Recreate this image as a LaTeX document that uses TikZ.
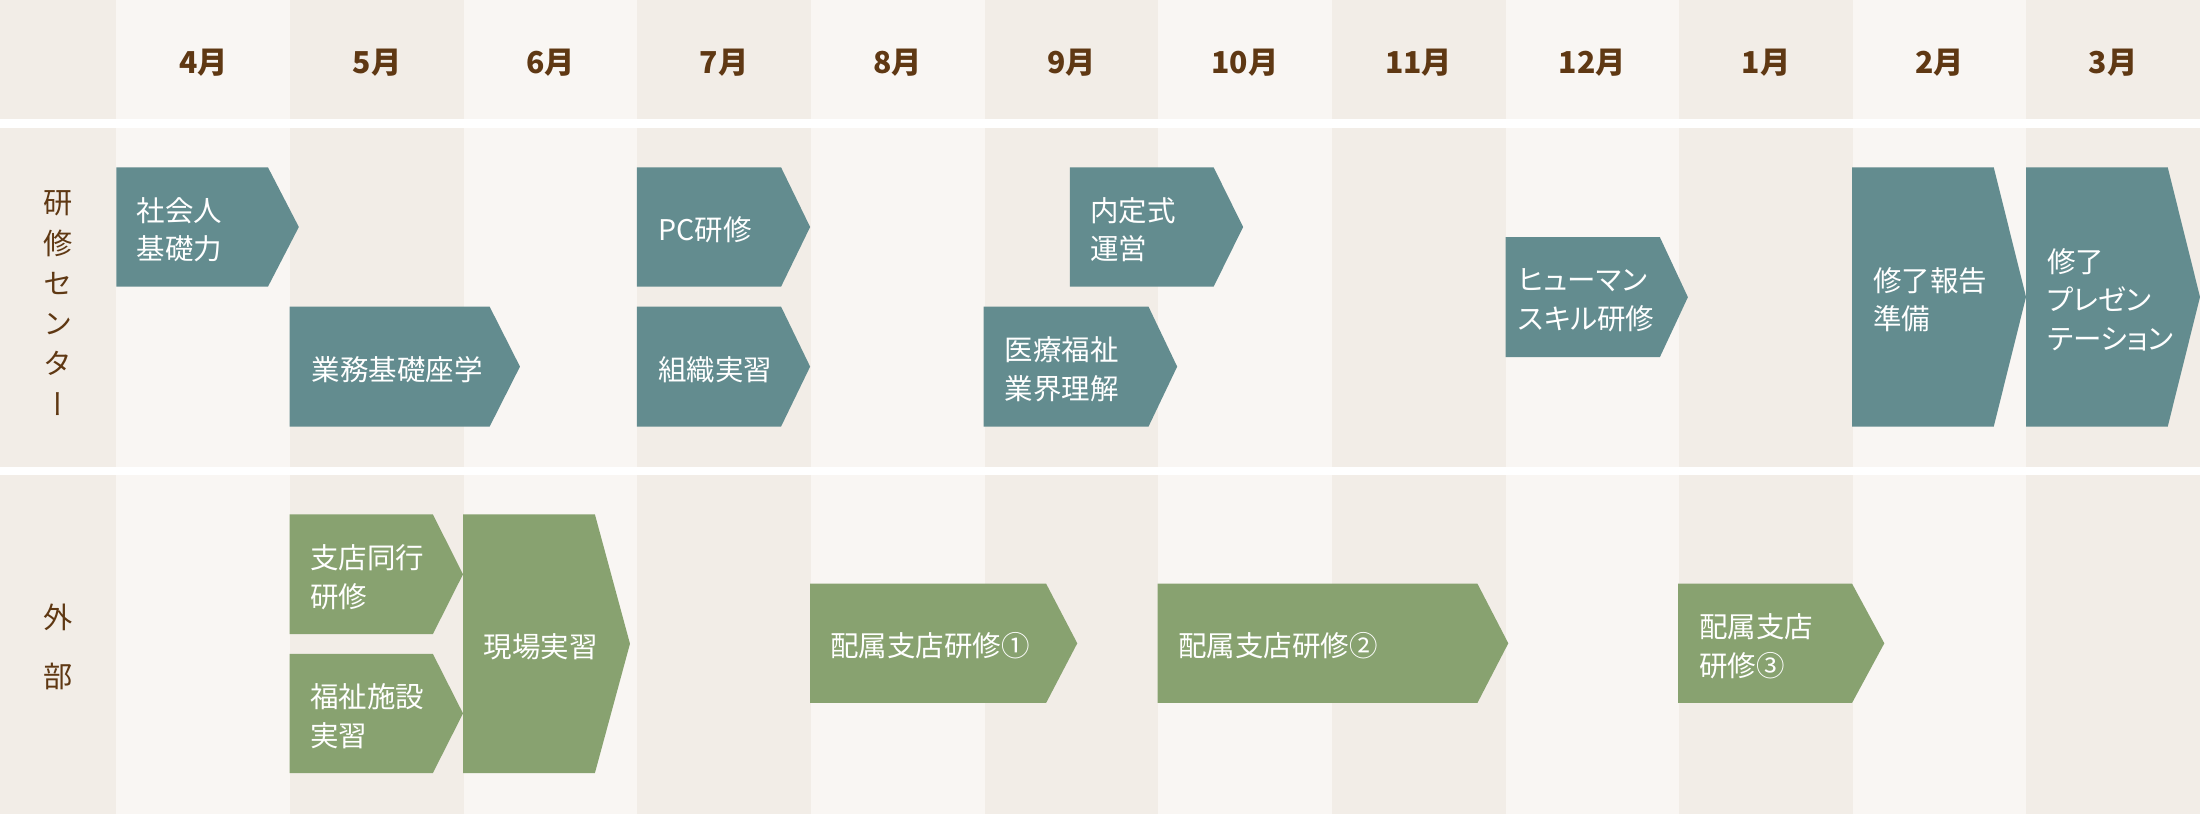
\documentclass[tikz,border=0pt]{standalone}
\usepackage{fontspec}
\setmainfont{Noto Sans CJK JP}
\newfontfamily\cjkv[RawFeature=+vert]{Noto Sans CJK JP}
\newfontfamily\cjkp[RawFeature=+palt]{Noto Sans CJK JP}
\definecolor{bglight}{HTML}{F9F6F3}
\definecolor{bgdark}{HTML}{F2EDE7}
\definecolor{tealbox}{HTML}{638C8F}
\definecolor{greenbox}{HTML}{88A270}
\definecolor{brownt}{HTML}{5F3813}
\newcommand\chev[6]{\fill[#6] (#1,#4) -- (#2,#4) -- (#3,{(#4+#5)/2}) -- (#2,#5) -- (#1,#5) -- cycle;}
\tikzset{
  month/.style={text=brownt, font=\bfseries\fontsize{21.5}{24}\selectfont, inner sep=0pt},
  rowlabel/.style={text=brownt, align=center, inner sep=0pt},
  boxtxt/.style={text=white, font=\cjkp\fontsize{20.3}{27.5}\selectfont, align=left, anchor=west, inner sep=0pt}
}
\begin{document}
\begin{tikzpicture}[x=1pt,y=-1pt]
\useasboundingbox (0,0) rectangle (1568,580);
% background columns
\fill[bgdark] (0,0) rectangle (83,580);
\foreach \i in {0,2,...,10} \fill[bglight] ({83+123.75*\i},0) rectangle ++(123.75,580);
\foreach \i in {1,3,...,11} \fill[bgdark] ({83+123.75*\i},0) rectangle ++(123.75,580);
% white separators
\fill[white] (0,85) rectangle (1568,91);
\fill[white] (0,332.6) rectangle (1568,338.6);
% month labels
\foreach \m [count=\i from 0] in {4,5,6,7,8,9,10,11,12,1,2,3}
  \node[month] (m\i) at ({83+123.75*(\i+0.5)},45) {\m 月};
% row labels
\node[rowlabel, font=\cjkv\fontsize{20.8}{28.7}\selectfont] (lab1) at (41.5,216) {研\\修\\セ\\ン\\タ\\ー};
\node[rowlabel, font=\fontsize{20.8}{42}\selectfont] (lab2) at (41.5,461) {外\\部};
% row 1 boxes (teal)
\chev{83}{191}{213}{119.3}{204.3}{tealbox}
\node[boxtxt] (b1) at (97.4,163.8) {社会人\\基礎力};
\chev{206.5}{349}{370.6}{218.6}{304}{tealbox}
\node[boxtxt] (b2) at (222,263.3) {業務基礎座学};
\chev{454}{556.7}{577.4}{119.3}{204.3}{tealbox}
\node[boxtxt] (b3) at (469,163.8) {PC研修};
\chev{454}{556.7}{577.4}{218.6}{304}{tealbox}
\node[boxtxt] (b4) at (469,263.3) {組織実習};
\chev{762.5}{865}{886}{119.3}{204.3}{tealbox}
\node[boxtxt] (b5) at (777,163.8) {内定式\\運営};
\chev{701}{818.6}{839}{218.6}{304}{tealbox}
\node[boxtxt] (b6) at (716,263.3) {医療福祉\\業界理解};
\chev{1073}{1183}{1203}{169}{254.6}{tealbox}
\node[boxtxt] (b7) at (1082,213.8) {ヒューマン\\スキル研修};
\chev{1320}{1421}{1444}{119.3}{304}{tealbox}
\node[boxtxt] (b8) at (1335,213.6) {修了報告\\準備};
\chev{1444}{1545}{1568}{119.3}{304}{tealbox}
\node[boxtxt] (b9) at (1459,213.6) {修了\\プレゼン\\テーション};
% row 2 boxes (green)
\chev{206.5}{308.5}{330}{366.6}{452}{greenbox}
\node[boxtxt] (c1) at (221,411.3) {支店同行\\研修};
\chev{206.5}{308.5}{330}{466}{551}{greenbox}
\node[boxtxt] (c2) at (221,510.5) {福祉施設\\実習};
\chev{330}{424}{449}{366.6}{551}{greenbox}
\node[boxtxt] (c3) at (344.5,460.8) {現場実習};
\chev{577.4}{745.6}{767.8}{416}{501}{greenbox}
\node[boxtxt] (c4) at (591.7,460.5) {配属支店研修①};
\chev{825}{1053}{1075}{416}{501}{greenbox}
\node[boxtxt] (c5) at (839.7,460.5) {配属支店研修②};
\chev{1196}{1320}{1343}{416}{501}{greenbox}
\node[boxtxt] (c6) at (1211,460.5) {配属支店\\研修③};
\end{tikzpicture}
\end{document}
